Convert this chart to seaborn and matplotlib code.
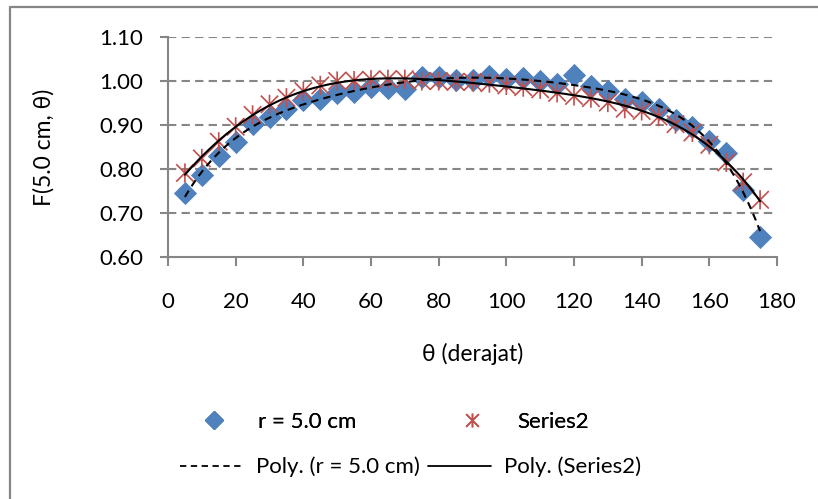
import numpy as np
import pandas as pd
import matplotlib
matplotlib.use("Agg")
import matplotlib.pyplot as plt
from matplotlib.path import Path
from matplotlib.lines import Line2D
import seaborn as sns

# Angle theta (degrees) and the two measured series
theta = [5, 10, 15, 20, 25, 30, 35, 40, 45, 50, 55, 60, 65, 70, 75, 80, 85, 90,
         95, 100, 105, 110, 115, 120, 125, 130, 135, 140, 145, 150, 155, 160,
         165, 170, 175]
f_r50 = [0.746, 0.787, 0.829, 0.862, 0.902, 0.919, 0.936, 0.956, 0.960, 0.972,
         0.976, 0.987, 0.985, 0.981, 1.008, 1.009, 1.002, 1.002, 1.011, 1.004,
         1.007, 1.000, 0.994, 1.014, 0.988, 0.978, 0.959, 0.953, 0.937, 0.912,
         0.896, 0.863, 0.836, 0.753, 0.646]
f_series2 = [0.791, 0.824, 0.862, 0.896, 0.923, 0.947, 0.962, 0.977, 0.990,
             1.000, 1.001, 1.003, 1.004, 1.004, 1.000, 1.000, 0.998, 0.998,
             0.995, 0.990, 0.986, 0.981, 0.973, 0.966, 0.961, 0.951, 0.937,
             0.932, 0.919, 0.902, 0.883, 0.855, 0.815, 0.770, 0.730]

label_r50 = "r = 5.0 cm"
label_s2 = "Series2"
x_ticks = [0, 20, 40, 60, 80, 100, 120, 140, 160, 180]
y_ticks = [0.60, 0.70, 0.80, 0.90, 1.00, 1.10]
poly_order = 6

BLUE = "#4F81BD"
RED = "#C0504D"
AXIS_GREY = "#868686"

sns.set_theme(style="white")
plt.rcParams["font.family"] = ["Lato", "Noto Sans", "DejaVu Sans"]
plt.rcParams["font.size"] = 16
plt.rcParams["text.color"] = "black"
plt.rcParams["axes.labelcolor"] = "black"
plt.rcParams["xtick.color"] = "black"
plt.rcParams["ytick.color"] = "black"

fig = plt.figure(figsize=(8.18, 4.99), dpi=100)
W, H = 818, 499
ax = fig.add_axes([168 / W, 1 - 257 / H, (777 - 168) / W, (257 - 37) / H])
ax.set_facecolor("none")

# Chart-area border (left and top edges visible)
fig.add_artist(Line2D([10 / W, 10 / W], [0, 1 - 7 / H], color=AXIS_GREY,
                      lw=1.6, transform=fig.transFigure))
fig.add_artist(Line2D([10 / W, 1], [1 - 7 / H, 1 - 7 / H], color=AXIS_GREY,
                      lw=1.6, transform=fig.transFigure))

df = pd.DataFrame({"theta": theta, "r50": f_r50, "s2": f_series2})

# Polynomial trend lines
xs = np.linspace(min(theta), max(theta), 400)
fit_r50 = np.polynomial.Polynomial.fit(df["theta"], df["r50"], poly_order)
fit_s2 = np.polynomial.Polynomial.fit(df["theta"], df["s2"], poly_order)
trend = pd.DataFrame({"x": xs, "r50": fit_r50(xs), "s2": fit_s2(xs)})

# Star marker: an X with a vertical stroke
star = Path([(-1, -1), (1, 1), (-1, 1), (1, -1), (0, -1.1), (0, 1.1)],
            [Path.MOVETO, Path.LINETO, Path.MOVETO, Path.LINETO,
             Path.MOVETO, Path.LINETO])

sns.scatterplot(data=df, x="theta", y="r50", marker="D", s=140, color=BLUE,
                edgecolor=BLUE, linewidth=0, ax=ax, zorder=3)
sns.scatterplot(data=df, x="theta", y="s2", marker=star, s=190, color=RED,
                edgecolor=RED, facecolor="none", linewidth=1.2, ax=ax, zorder=4)
sns.lineplot(data=trend, x="x", y="r50", color="black", lw=1.5,
             dashes=False, ax=ax, zorder=5, linestyle=(0, (3.5, 2.5)))
sns.lineplot(data=trend, x="x", y="s2", color="black", lw=1.5, ax=ax, zorder=5)

ax.set_xlim(0, 180)
ax.set_ylim(0.60, 1.10)
ax.set_xticks(x_ticks)
ax.set_yticks(y_ticks)
ax.set_yticklabels([f"{v:.2f}" for v in y_ticks])
ax.set_xticklabels([str(v) for v in x_ticks])

for v in y_ticks[1:]:
    ax.axhline(v, color=AXIS_GREY, lw=1.5, linestyle=(0, (4, 2.5)), zorder=1)

for side in ["top", "right"]:
    ax.spines[side].set_visible(False)
for side in ["left", "bottom"]:
    ax.spines[side].set_color(AXIS_GREY)
    ax.spines[side].set_linewidth(1.5)

ax.tick_params(axis="y", direction="out", length=6, width=1.5,
               color=AXIS_GREY, labelcolor="black", pad=12, labelsize=16,
               left=True)
ax.tick_params(axis="x", direction="out", length=6.5, width=1.5,
               color=AXIS_GREY, labelcolor="black", pad=19, labelsize=16,
               bottom=True)

ax.set_xlabel("θ (derajat)", fontsize=16.5, labelpad=22, color="black")
ax.set_ylabel("F(5.0 cm, θ)", fontsize=16.5, labelpad=32, color="black")

# Legend: markers on the first row, trend lines on the second
h_r50 = Line2D([], [], marker="D", color=BLUE, linestyle="none", markersize=9)
h_s2 = Line2D([], [], marker=star, color=RED, markeredgewidth=1.2,
              linestyle="none", markersize=10)
h_t1 = Line2D([], [], color="black", lw=1.3, linestyle=(0, (3.5, 2.5)))
h_t2 = Line2D([], [], color="black", lw=1.3)

leg1 = fig.legend([h_r50, h_s2], [label_r50, label_s2], ncol=2,
                  loc="center left", bbox_to_anchor=(194 / W, 1 - 422 / H),
                  frameon=False, borderpad=0, borderaxespad=0,
                  handlelength=1.8, handletextpad=1.1, columnspacing=4.3,
                  fontsize=16)
leg2 = fig.legend([h_t1, h_t2], [f"Poly. ({label_r50})", f"Poly. ({label_s2})"],
                  ncol=2, loc="center left",
                  bbox_to_anchor=(180 / W, 1 - 467 / H), frameon=False,
                  borderpad=0, borderaxespad=0, handlelength=2.8,
                  handletextpad=0.6, columnspacing=0.4, fontsize=16)
fig.add_artist(leg1)

fig.savefig("out.png", dpi=100, facecolor="white")
